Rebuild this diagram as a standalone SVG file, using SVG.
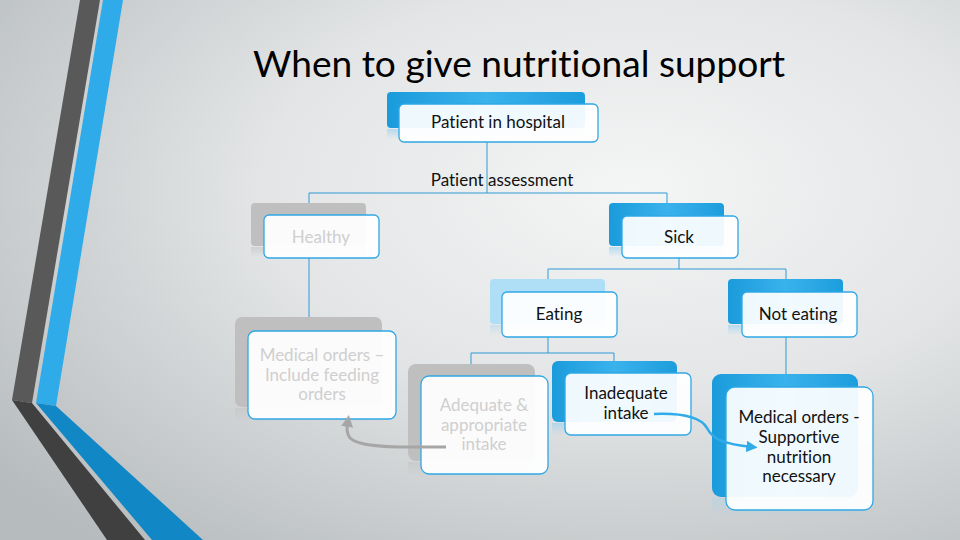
<svg xmlns="http://www.w3.org/2000/svg" width="960" height="540" viewBox="0 0 960 540">
<defs>
<radialGradient id="bg" cx="0.66" cy="0.35" r="0.85">
<stop offset="0" stop-color="#f4f5f5"/>
<stop offset="0.45" stop-color="#e3e5e6"/>
<stop offset="1" stop-color="#b6bbbd"/>
</radialGradient>
<linearGradient id="blueBack" x1="0" y1="0" x2="1" y2="0">
<stop offset="0" stop-color="#1a9bdb"/>
<stop offset="0.5" stop-color="#3ab2ec"/>
<stop offset="1" stop-color="#1c9ddc"/>
</linearGradient>
<linearGradient id="refl" x1="0" y1="0" x2="0" y2="1">
<stop offset="0" stop-color="#9fd3ef" stop-opacity="0.7"/>
<stop offset="1" stop-color="#9fd3ef" stop-opacity="0"/>
</linearGradient>
<linearGradient id="reflGray" x1="0" y1="0" x2="0" y2="1">
<stop offset="0" stop-color="#c4c4c4" stop-opacity="0.6"/>
<stop offset="1" stop-color="#c4c4c4" stop-opacity="0"/>
</linearGradient>
<marker id="arrGray" viewBox="0 0 10 10" refX="5" refY="5" markerWidth="4" markerHeight="4" orient="auto">
<path d="M0,0 L10,5 L0,10 z" fill="#a6a6a6"/>
</marker>
<marker id="arrBlue" viewBox="0 0 10 10" refX="5" refY="5" markerWidth="4.5" markerHeight="4.5" orient="auto">
<path d="M0,0 L10,5 L0,10 z" fill="#2fabe9"/>
</marker>
<style>
text{font-variant-ligatures:none;font-feature-settings:"liga" 0,"clig" 0}
.lbl{font-family:Lato,"Open Sans","Liberation Sans",sans-serif;font-size:17px;fill:#111;text-anchor:middle}
.dim{fill:#cfcfcf}
.front{fill:#ffffff;fill-opacity:0.93;stroke:#2fa8e5;stroke-width:1.3}
.bBlue{fill:url(#blueBack)}
.bGray{fill:#bfbfbf}
.bLight{fill:#aedff7}
.conn{fill:none;stroke:#2e9bd6;stroke-width:1}
</style>
</defs>
<rect width="960" height="540" fill="url(#bg)"/>
<g id="stripes">
<polygon points="80,0 100,0 32,403 12,400" fill="#595959"/>
<polygon points="12,400 32,403 145,540 107,540" fill="#404040"/>
<polygon points="103,0 123,0 56,406 36,403" fill="#2fabe9"/>
<polygon points="36,403 56,406 203,540 152,540" fill="#1287c5"/>
</g>
<text x="519" y="77" font-family="Lato,'Open Sans','Liberation Sans',sans-serif" font-size="36" fill="#000" text-anchor="middle" textLength="532" lengthAdjust="spacingAndGlyphs">When to give nutritional support</text>
<g id="connectors">
<polyline class="conn" points="487,142 487,193"/>
<polyline class="conn" points="309,215 309,193 667,193 667,216"/>
<polyline class="conn" points="309,258 309,331"/>
<polyline class="conn" points="679,258 679,269"/>
<polyline class="conn" points="548,279 548,269 786,269 786,279"/>
<polyline class="conn" points="548,337 548,353"/>
<polyline class="conn" points="471,364 471,353 614,353 614,361"/>
<polyline class="conn" points="786,337 786,374"/>
</g>
<text class="lbl" x="502" y="186">Patient assessment</text>
<g id="n-patient">
<rect x="387" y="92" width="198" height="36" rx="4" class="bBlue"/>
<rect x="387" y="129" width="198" height="10" fill="url(#refl)"/>
<rect x="399" y="104" width="199" height="38" rx="5" class="front"/>
<text class="lbl" x="498" y="128">Patient in hospital</text>
</g>
<g id="n-healthy">
<rect x="251" y="203" width="115" height="43" rx="4" class="bGray"/>
<rect x="251" y="247" width="115" height="10" fill="url(#reflGray)"/>
<rect x="264" y="215" width="115" height="43" rx="5" class="front"/>
<text class="lbl dim" x="321" y="243">Healthy</text>
</g>
<g id="n-sick">
<rect x="609" y="203" width="115" height="43" rx="4" class="bBlue"/>
<rect x="609" y="247" width="115" height="10" fill="url(#refl)"/>
<rect x="622" y="216" width="116" height="42" rx="5" class="front"/>
<text class="lbl" x="679" y="243">Sick</text>
</g>
<g id="n-eating">
<rect x="490" y="279" width="115" height="45" rx="4" class="bLight"/>
<rect x="490" y="325" width="115" height="10" fill="url(#refl)" opacity="0.6"/>
<rect x="502" y="292" width="115" height="45" rx="5" class="front"/>
<text class="lbl" x="559" y="320">Eating</text>
</g>
<g id="n-noteating">
<rect x="728" y="279" width="115" height="45" rx="4" class="bBlue"/>
<rect x="728" y="325" width="115" height="10" fill="url(#refl)"/>
<rect x="742" y="292" width="115" height="45" rx="5" class="front"/>
<text class="lbl" x="798" y="320">Not eating</text>
</g>
<g id="n-medleft">
<rect x="235" y="317" width="147" height="90" rx="7" class="bGray"/>
<rect x="235" y="408" width="147" height="14" fill="url(#reflGray)"/>
<rect x="248" y="331" width="148" height="88" rx="7" class="front"/>
<text class="lbl dim" x="322" y="361">Medical orders –</text>
<text class="lbl dim" x="322" y="381">Include feeding</text>
<text class="lbl dim" x="322" y="400">orders</text>
</g>
<g id="n-adequate">
<rect x="408" y="364" width="127" height="97" rx="8" class="bGray"/>
<rect x="408" y="462" width="127" height="14" fill="url(#reflGray)"/>
<rect x="421" y="376" width="127" height="98" rx="8" class="front"/>
<text class="lbl dim" x="484" y="411">Adequate &amp;</text>
<text class="lbl dim" x="484" y="431">appropriate</text>
<text class="lbl dim" x="484" y="450">intake</text>
</g>
<g id="n-inadequate">
<rect x="552" y="361" width="125" height="61" rx="6" class="bBlue"/>
<rect x="552" y="423" width="125" height="12" fill="url(#refl)"/>
<rect x="565" y="373" width="126" height="62" rx="6" class="front"/>
<text class="lbl" x="626" y="399">Inadequate</text>
<text class="lbl" x="626" y="419">intake</text>
</g>
<g id="n-medright">
<rect x="712" y="374" width="146" height="123" rx="9" class="bBlue"/>
<rect x="712" y="498" width="146" height="20" fill="url(#refl)" opacity="0.5"/>
<rect x="726" y="387" width="147" height="123" rx="9" class="front"/>
<text class="lbl" x="799" y="423">Medical orders -</text>
<text class="lbl" x="799" y="443">Supportive</text>
<text class="lbl" x="799" y="463">nutrition</text>
<text class="lbl" x="799" y="482">necessary</text>
</g>
<g id="arrows">
<path d="M446,447 L410,447 C385,447 358,446 350,438 C346,433 347,428 348,421" fill="none" stroke="#a6a6a6" stroke-width="3" marker-end="url(#arrGray)"/>
<path d="M654,414 C680,413 700,416 707,428 C713,440 725,444 752,447" fill="none" stroke="#2fabe9" stroke-width="2.5" marker-end="url(#arrBlue)"/>
</g>
</svg>
